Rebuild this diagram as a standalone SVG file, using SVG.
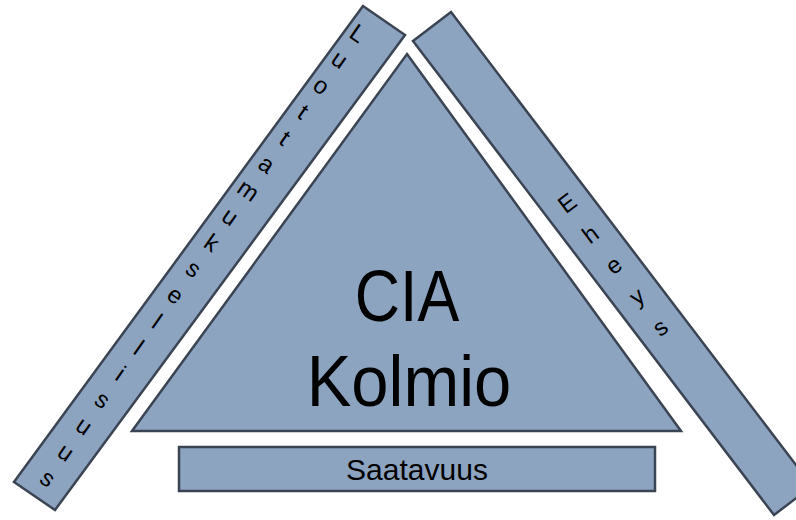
<svg xmlns="http://www.w3.org/2000/svg" width="796" height="520" viewBox="0 0 796 520">
<style>
.shape{fill:#8DA4C1;stroke:#3B4452;stroke-width:2.5;stroke-linejoin:miter}
.lbl{font-family:"Liberation Sans",Arial,sans-serif;fill:#000}
.big{font-size:72px;text-anchor:middle}
.side{font-size:24px;text-anchor:middle;dominant-baseline:central}
</style>
<rect width="796" height="520" fill="#fff"/>
<g id="triangle">
<polygon class="shape" points="407,54 681,431 132,431"/>
<text class="lbl big" transform="translate(407,321) scale(0.87,1)">CIA</text>
<text class="lbl big" transform="translate(409,406) scale(0.93,1)">Kolmio</text>
</g>
<g id="luottamuksellisuus">
<polygon class="shape" points="363,6 405,35 55,510 14,482"/>
<g class="lbl side">
<text transform="translate(358,33) rotate(35)">L</text>
<text transform="translate(339.8,59.2) rotate(35)">u</text>
<text transform="translate(321.5,85.4) rotate(35)">o</text>
<text transform="translate(303.3,111.5) rotate(35)">t</text>
<text transform="translate(285,137.7) rotate(35)">t</text>
<text transform="translate(266.8,163.9) rotate(35)">a</text>
<text transform="translate(248.6,190.1) rotate(35)">m</text>
<text transform="translate(230.3,216.3) rotate(35)">u</text>
<text transform="translate(212.1,242.4) rotate(35)">k</text>
<text transform="translate(193.9,268.6) rotate(35)">s</text>
<text transform="translate(175.6,294.8) rotate(35)">e</text>
<text transform="translate(157.4,321) rotate(35)">l</text>
<text transform="translate(139.1,347.2) rotate(35)">l</text>
<text transform="translate(120.9,373.4) rotate(35)">i</text>
<text transform="translate(102.7,399.5) rotate(35)">s</text>
<text transform="translate(84.4,425.7) rotate(35)">u</text>
<text transform="translate(66.2,451.9) rotate(35)">u</text>
<text transform="translate(48,478) rotate(35)">s</text>
</g>
</g>
<g id="eheys">
<polygon class="shape" points="413,41 451,12 812,486 774,515"/>
<g class="lbl side">
<text transform="translate(567,203) rotate(-37)">E</text>
<text transform="translate(590.3,234) rotate(-37)">h</text>
<text transform="translate(613.5,265) rotate(-37)">e</text>
<text transform="translate(636.8,296) rotate(-37)">y</text>
<text transform="translate(660,327) rotate(-37)">s</text>
</g>
</g>
<g id="saatavuus">
<rect class="shape" x="179" y="447" width="476" height="44"/>
<text class="lbl" x="417" y="480" font-size="30" text-anchor="middle">Saatavuus</text>
</g>
<g id="connectors"/>
</svg>
